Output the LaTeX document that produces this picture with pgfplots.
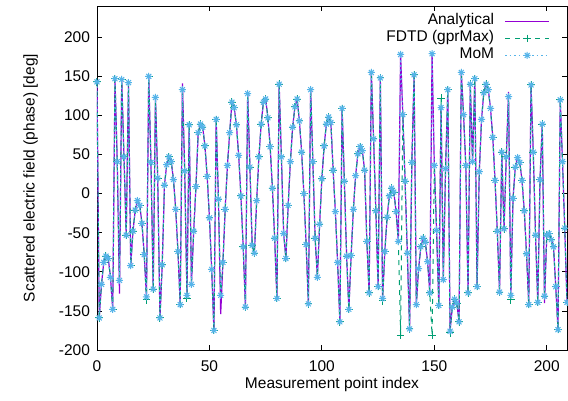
\documentclass[border=0pt]{standalone}
\usepackage{fontspec}
\setmainfont{Liberation Sans}
\usepackage{pgfplots}
\usepackage{pgfplotstable}
\pgfplotsset{compat=1.18}
\definecolor{gpPurple}{HTML}{9400D3}
\definecolor{gpGreen}{HTML}{009E73}
\definecolor{gpBlue}{HTML}{56B4E9}
\pgfdeclareplotmark{gpstar}{%
 \pgfpathmoveto{\pgfqpoint{-\pgfplotmarksize}{0pt}}\pgfpathlineto{\pgfqpoint{\pgfplotmarksize}{0pt}}%
 \pgfpathmoveto{\pgfqpoint{0pt}{-\pgfplotmarksize}}\pgfpathlineto{\pgfqpoint{0pt}{\pgfplotmarksize}}%
 \pgfpathmoveto{\pgfqpoint{-0.7071\pgfplotmarksize}{-0.7071\pgfplotmarksize}}\pgfpathlineto{\pgfqpoint{0.7071\pgfplotmarksize}{0.7071\pgfplotmarksize}}%
 \pgfpathmoveto{\pgfqpoint{-0.7071\pgfplotmarksize}{0.7071\pgfplotmarksize}}\pgfpathlineto{\pgfqpoint{0.7071\pgfplotmarksize}{-0.7071\pgfplotmarksize}}%
 \pgfusepathqstroke}
\newcommand{\fs}{\fontsize{15.5}{18}\selectfont}
\pgfplotstableread{
i a f m
0 143 143 143
1 -159 -159 -159
2 -116 -116 -116
3 -88 -88 -88
4 -80 -80 -80
5 -83 -83 -83
6 -107 -107 -107
7 -148 -148 -148
8 147 147 147
9 41 41 41
10 -128 -111 -111
11 146 146 146
12 47 47 47
13 -53 -53 -53
14 142 142 142
15 -92 -92 -92
16 -48 -48 -48
17 -21 -21 -21
18 -9 -9 -9
19 -15 -15 -15
20 -38 -38 -38
21 -78 -78 -78
22 -132 -136 -132
23 150 150 150
24 40 40 40
25 -122 -122 -122
26 123 123 123
27 20 20 20
28 -159 -159 -159
29 -91 -91 -91
30 11 11 11
31 37 37 37
32 47 47 47
33 41 41 41
34 18 18 18
35 -20 -20 -20
36 -74 -74 -74
37 -142 -142 -142
38 141 133 133
39 29 29 29
40 -130 -134 -130
41 88 88 88
42 -116 -116 -116
43 -48 -48 -48
44 9 9 9
45 78 78 78
46 89 89 89
47 85 85 85
48 61 61 61
49 22 22 22
50 -31 -31 -31
51 -97 -97 -97
52 -175 -175 -175
53 95 95 95
54 -7 -7 -7
55 -154 -130 -130
56 -88 -88 -88
57 -20 -20 -20
58 36 36 36
59 78 78 78
60 117 117 117
61 110 110 110
62 88 88 88
63 49 49 49
64 -3 -3 -3
65 -68 -68 -68
66 -145 -145 -145
67 128 128 128
68 34 34 34
69 -66 -66 -66
70 -76 -76 -76
71 -9 -9 -9
72 47 47 47
73 89 89 89
74 117 117 117
75 121 121 121
76 97 97 97
77 60 60 60
78 7 7 7
79 -57 -57 -57
80 -134 -134 -134
81 140 140 140
82 47 47 47
83 -51 -51 -51
84 -83 -83 -83
85 -15 -15 -15
86 41 41 41
87 85 85 85
88 111 111 111
89 121 121 121
90 93 93 93
91 53 53 53
92 0 0 0
93 -65 -65 -65
94 -141 -141 -141
95 133 133 133
96 41 41 41
97 -57 -57 -57
98 -107 -107 -107
99 -39 -39 -39
100 19 19 19
101 61 61 61
102 89 89 89
103 98 98 98
104 91 91 91
105 30 30 30
106 -23 -23 -23
107 -88 -88 -88
108 -164 -164 -164
109 109 109 109
110 16 16 16
111 -80 -80 -80
112 -148 -148 -148
113 -79 -79 -79
114 -20 -20 -20
115 23 23 23
116 51 51 51
117 60 60 60
118 55 55 55
119 30 30 30
120 -61 -61 -61
121 -127 -127 -127
122 155 155 155
123 70 70 70
124 -22 -22 -22
125 -119 -119 -119
126 148 148 148
127 -134 -137 -134
128 -74 -74 -74
129 -30 -30 -30
130 -3 -3 -3
131 7 7 7
132 2 2 2
133 -23 -23 -23
134 -61 -61 -61
135 178 -181 178
136 101 101 101
137 16 16 16
138 -76 -76 -76
139 -173 -173 -173
140 40 40 40
141 152 152 152
142 -142 -142 -142
143 -96 -96 -96
144 -68 -68 -68
145 -57 -57 -57
146 -62 -62 -62
147 -87 -87 -87
148 -127 -127 -127
149 179 -181 179
150 36 36 36
151 -47 -47 -47
152 -143 -143 -143
153 110 122 110
154 -110 -110 -110
155 32 32 32
156 133 133 133
157 -176 -178 -176
158 -145 -145 -145
159 -135 -135 -135
160 -140 -140 -140
161 -164 -164 -164
162 155 155 155
163 101 101 101
164 36 36 36
165 -127 -127 -127
166 140 140 140
167 41 41 41
168 147 147 147
169 -119 -119 -119
170 28 28 28
171 95 95 95
172 129 129 129
173 140 140 140
174 133 133 133
175 109 109 109
176 72 72 72
177 17 17 17
178 -48 -48 -48
179 -126 -126 -126
180 53 53 53
181 -45 -45 -45
182 47 47 47
183 130 124 124
184 -130 -136 -130
185 -6 -6 -6
186 34 34 34
187 46 46 46
188 40 40 40
189 17 17 17
190 -22 -22 -22
191 -77 -77 -77
192 -142 -142 -142
193 139 139 139
194 53 53 53
195 -53 -53 -53
196 -139 -139 -139
197 18 18 18
198 89 89 89
199 -140 -131 -131
200 -53 -53 -53
201 -51 -51 -51
202 -59 -59 -59
203 -68 -68 -68
204 -119 -119 -119
205 -174 -174 -174
206 120 120 120
207 41 41 41
208 -44 -44 -44
209 -139 -139 -139
}\datatable
\begin{document}
\begin{tikzpicture}
\path[use as bounding box] (-97pt,-50pt) rectangle (471pt,350pt);
\begin{axis}[
  at={(0pt,0pt)}, anchor=south west,
  scale only axis, width=470pt, height=344pt,
  xmin=0, xmax=209, ymin=-200, ymax=240,
  xtick={0,50,100,150,200},
  ytick={-200,-150,-100,-50,0,50,100,150,200},
  minor tick num=0,
  tick align=inside, major tick length=5pt,
  axis line style={line width=0.8pt, black},
  tick style={line width=0.8pt, black},
  /pgf/number format/assume math mode=true,
  tick label style={font=\fs},
  label style={font=\fs},
  yticklabel style={xshift=-3.5pt},
  xticklabel style={yshift=-7pt},
  xlabel={Measurement point index},
  ylabel={Scattered electric field (phase) [deg]},
  xlabel style={at={(axis description cs:0.5,-0.1017)}, anchor=center},
  ylabel style={at={(axis description cs:-0.1415,0.5)}, anchor=center},
  legend plot pos=right,
  legend cell align=right,
  legend image code/.code={\draw[mark repeat=2,mark phase=2,#1] plot coordinates {(0pt,0pt) (22pt,0pt) (44pt,0pt)};},
  legend style={at={(rel axis cs:1,1)}, anchor=north east, xshift=-17pt, yshift=-6.7pt,
    draw=none, fill=none, inner sep=0pt, row sep=0pt, column sep=9.5pt, font=\fs,
    nodes={inner sep=1pt, text height=11pt, text depth=4pt}},
]
\addplot[gpPurple, line width=1.2pt, no markers] table[x=i,y=a]{\datatable};
\addlegendentry{Analytical}
\addplot[gpGreen, line width=1pt, dash pattern=on 5pt off 5pt, mark=+, mark size=3.8pt, mark options={solid, line width=1pt}] table[x=i,y=f]{\datatable};
\addlegendentry{FDTD (gprMax)}
\addplot[gpBlue, line width=1pt, dash pattern=on 1.5pt off 3pt, mark=gpstar, mark size=3.5pt, mark options={solid, line width=1pt}] table[x=i,y=m]{\datatable};
\addlegendentry{MoM}
\end{axis}
\end{tikzpicture}
\end{document}
